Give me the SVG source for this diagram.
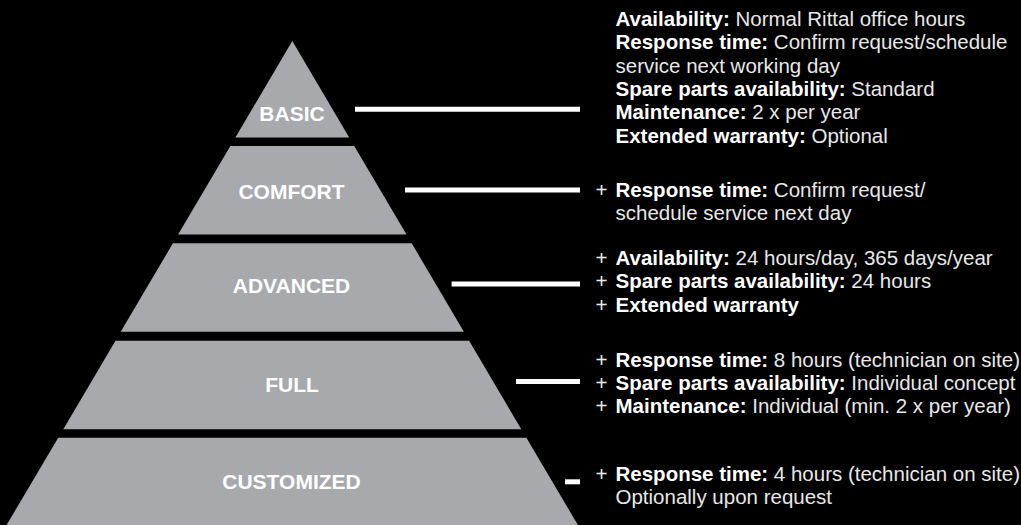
<svg xmlns="http://www.w3.org/2000/svg" width="1021" height="525" viewBox="0 0 1021 525">
<style>
.tier{fill:#a7a9ac}
.lbl{font-family:"Liberation Sans",Arial,sans-serif;font-weight:bold;font-size:21px;fill:#ffffff;text-anchor:middle}
.txt{font-family:"Liberation Sans",Arial,sans-serif;font-size:20.5px;fill:#e8e8e8}
.b{font-weight:bold;fill:#ffffff}
.conn{stroke:#ffffff;stroke-width:5;fill:none}
</style>
<rect x="0" y="0" width="1021" height="525" fill="#000000"/>
<g id="basic">
<polygon class="tier" points="292.3,41 349.2,137.5 235.4,137.5"/>
<text class="lbl" x="292" y="120.7">BASIC</text>
<text class="txt" x="615.5" y="26"><tspan class="b">Availability:</tspan> Normal Rittal office hours</text>
<text class="txt" x="615.5" y="49.3"><tspan class="b">Response time:</tspan> Confirm request/schedule</text>
<text class="txt" x="615.5" y="72.7">service next working day</text>
<text class="txt" x="615.5" y="96"><tspan class="b">Spare parts availability:</tspan> Standard</text>
<text class="txt" x="615.5" y="119.3"><tspan class="b">Maintenance:</tspan> 2 x per year</text>
<text class="txt" x="615.5" y="142.7"><tspan class="b">Extended warranty:</tspan> Optional</text>
</g>
<g id="comfort">
<polygon class="tier" points="230.35,146 354.25,146 406.5,234.5 178.1,234.5"/>
<text class="lbl" x="291.5" y="199.3">COMFORT</text>
<text class="txt" x="595.5" y="196.7">+</text>
<text class="txt" x="615.5" y="196.7"><tspan class="b">Response time:</tspan> Confirm request/</text>
<text class="txt" x="615.5" y="220">schedule service next day</text>
</g>
<g id="advanced">
<polygon class="tier" points="172.9,243.3 411.7,243.3 463.9,331.8 120.7,331.8"/>
<text class="lbl" x="291.5" y="292.7">ADVANCED</text>
<text class="txt" x="595.5" y="265">+</text>
<text class="txt" x="615.5" y="265"><tspan class="b">Availability:</tspan> 24 hours/day, 365 days/year</text>
<text class="txt" x="595.5" y="288.3">+</text>
<text class="txt" x="615.5" y="288.3"><tspan class="b">Spare parts availability:</tspan> 24 hours</text>
<text class="txt" x="595.5" y="311.5">+</text>
<text class="txt" x="615.5" y="311.5"><tspan class="b">Extended warranty</tspan></text>
</g>
<g id="full">
<polygon class="tier" points="115.5,340.7 469.1,340.7 521.3,429.2 63.3,429.2"/>
<text class="lbl" x="292" y="392">FULL</text>
<text class="txt" x="595.5" y="367">+</text>
<text class="txt" x="615.5" y="367"><tspan class="b">Response time:</tspan> 8 hours (technician on site)</text>
<text class="txt" x="595.5" y="390">+</text>
<text class="txt" x="615.5" y="390"><tspan class="b">Spare parts availability:</tspan> Individual concept</text>
<text class="txt" x="595.5" y="413">+</text>
<text class="txt" x="615.5" y="413"><tspan class="b">Maintenance:</tspan> Individual (min. 2 x per year)</text>
</g>
<g id="customized">
<polygon class="tier" points="58.2,437.8 526.4,437.8 578.5,526 6,526"/>
<text class="lbl" x="291.5" y="489.3">CUSTOMIZED</text>
<text class="txt" x="595.5" y="480.5">+</text>
<text class="txt" x="615.5" y="480.5"><tspan class="b">Response time:</tspan> 4 hours (technician on site)</text>
<text class="txt" x="615.5" y="503.7">Optionally upon request</text>
</g>
<g id="connectors">
<line class="conn" x1="355" y1="109.3" x2="580" y2="109.3"/>
<line class="conn" x1="405" y1="190" x2="580" y2="190"/>
<line class="conn" x1="451.6" y1="284" x2="580" y2="284"/>
<line class="conn" x1="516" y1="381.5" x2="580" y2="381.5"/>
<line class="conn" x1="565" y1="481.8" x2="580" y2="481.8"/>
</g>
</svg>
